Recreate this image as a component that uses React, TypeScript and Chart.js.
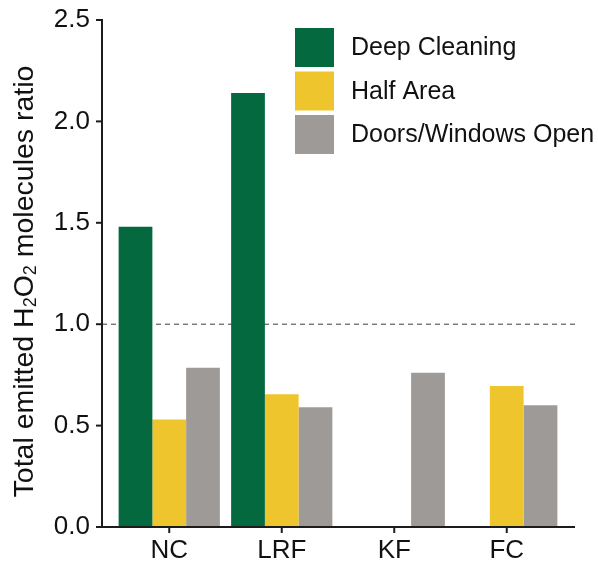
import { useEffect, useRef } from "react";
import { Chart, registerables } from "chart.js";

Chart.register(...registerables);

const categories = ["NC", "LRF", "KF", "FC"];
const deepCleaning = [1.48, 2.14, null, null];
const halfArea = [0.53, 0.655, null, 0.695];
const doorsWindowsOpen = [0.785, 0.59, 0.76, 0.6];
const yTickValues = [0, 0.5, 1.0, 1.5, 2.0, 2.5];
const seriesLabels = ["Deep Cleaning", "Half Area", "Doors/Windows Open"];
const seriesColors = ["#04693E", "#EFC52E", "#9E9A97"];
const referenceLine = 1.0;
// y-axis title pieces: [text, isSubscript]
const yTitleParts: [string, boolean][] = [
  ["Total emitted H", false],
  ["2", true],
  ["O", false],
  ["2", true],
  [" molecules ratio", false],
];

const FONT = "'Liberation Sans', Arial, sans-serif";
const AXIS_COLOR = "#1c1c1c";
const TITLE_SIZE = 28.5;
const SUB_SIZE = 18;

const axesPlugin = {
  id: "customAxes",
  beforeDatasetsDraw(chart: any) {
    const { ctx, chartArea, scales } = chart;
    const y = scales.y;
    const axisX = chartArea.left - 11;
    const rightX = chartArea.right + 12;
    const yRef = y.getPixelForValue(referenceLine);
    ctx.save();
    ctx.strokeStyle = "#3a3a3a";
    ctx.lineWidth = 1;
    ctx.setLineDash([5, 4]);
    ctx.beginPath();
    ctx.moveTo(axisX, yRef);
    ctx.lineTo(rightX, yRef);
    ctx.stroke();
    ctx.restore();
  },
  afterDatasetsDraw(chart: any) {
    const { ctx, chartArea, scales } = chart;
    const x = scales.x;
    const y = scales.y;
    const axisX = chartArea.left - 11;
    const rightX = chartArea.right + 12;
    const y0 = y.getPixelForValue(0);
    const yTop = y.getPixelForValue(yTickValues[yTickValues.length - 1]);
    ctx.save();
    ctx.strokeStyle = AXIS_COLOR;
    ctx.lineWidth = 2;
    ctx.lineCap = "butt";
    ctx.beginPath();
    ctx.moveTo(axisX, yTop - 1);
    ctx.lineTo(axisX, y0);
    ctx.stroke();
    ctx.beginPath();
    ctx.moveTo(axisX - 6, y0);
    ctx.lineTo(rightX, y0);
    ctx.stroke();
    yTickValues.forEach((v) => {
      const py = y.getPixelForValue(v);
      ctx.beginPath();
      ctx.moveTo(axisX - 6, py);
      ctx.lineTo(axisX, py);
      ctx.stroke();
    });
    categories.forEach((_, i) => {
      const px = x.getPixelForValue(i);
      ctx.beginPath();
      ctx.moveTo(px, y0);
      ctx.lineTo(px, y0 + 6);
      ctx.stroke();
    });
    ctx.restore();
  },
  afterDraw(chart: any) {
    const { ctx, chartArea } = chart;
    // legend
    const boxX = chartArea.left + 182;
    const boxTop = chartArea.top + 8;
    const box = 39;
    const step = 43.5;
    ctx.save();
    ctx.font = `25px ${FONT}`;
    ctx.textBaseline = "middle";
    ctx.textAlign = "left";
    seriesLabels.forEach((label, i) => {
      const top = boxTop + i * step;
      ctx.fillStyle = seriesColors[i];
      ctx.fillRect(boxX, top, box, box);
      ctx.fillStyle = "#111";
      ctx.fillText(label, boxX + 56, top + box / 2 + 1);
    });
    ctx.restore();

    // y-axis title with real subscripts
    ctx.save();
    ctx.fillStyle = "#111";
    ctx.textBaseline = "alphabetic";
    ctx.textAlign = "left";
    const widths = yTitleParts.map(([t, sub]) => {
      ctx.font = `${sub ? SUB_SIZE : TITLE_SIZE}px ${FONT}`;
      return ctx.measureText(t).width;
    });
    const total = widths.reduce((a, b) => a + b, 0);
    const centerY = (chartArea.top + chartArea.bottom) / 2 + 8;
    const baselineX = chartArea.left - 80;
    ctx.translate(baselineX, centerY);
    ctx.rotate(-Math.PI / 2);
    let cx = -total / 2;
    yTitleParts.forEach(([t, sub], i) => {
      ctx.font = `${sub ? SUB_SIZE : TITLE_SIZE}px ${FONT}`;
      ctx.fillText(t, cx, sub ? 3 : 0);
      cx += widths[i];
    });
    ctx.restore();
  },
};

export default function App() {
  const canvasRef = useRef<HTMLCanvasElement | null>(null);

  useEffect(() => {
    if (!canvasRef.current) return;
    const seriesData = [deepCleaning, halfArea, doorsWindowsOpen];
    const chart = new Chart(canvasRef.current, {
      type: "bar",
      data: {
        labels: categories,
        datasets: seriesLabels.map((label, i) => ({
          label,
          data: seriesData[i] as any,
          backgroundColor: seriesColors[i],
          borderWidth: 0,
          categoryPercentage: 0.9,
          barPercentage: 1.0,
        })),
      },
      options: {
        animation: false,
        responsive: true,
        maintainAspectRatio: false,
        layout: { padding: { top: 20, right: 35, left: 0, bottom: 0 } },
        plugins: {
          legend: { display: false },
          tooltip: { enabled: false },
        },
        scales: {
          x: {
            grid: { display: false, drawTicks: false },
            border: { display: false },
            ticks: {
              color: "#111",
              font: { family: FONT, size: 26 },
              padding: 8,
            },
            afterFit: (scale: any) => {
              scale.height = 35;
            },
          },
          y: {
            min: 0,
            max: 2.5,
            grid: { display: false, drawTicks: false },
            border: { display: false },
            afterBuildTicks: (scale: any) => {
              scale.ticks = yTickValues.map((v) => ({ value: v }));
            },
            ticks: {
              color: "#111",
              font: { family: FONT, size: 26 },
              padding: 23,
              callback: (v: any) => Number(v).toFixed(1),
            },
            afterFit: (scale: any) => {
              scale.width = 113;
              scale.paddingTop = 0;
              scale.paddingBottom = 0;
            },
          },
        },
      },
      plugins: [axesPlugin],
    });
    return () => chart.destroy();
  }, []);

  return (
    <div style={{ position: "fixed", left: 0, top: 0, width: 598, height: 562, background: "#fff" }}>
      <canvas ref={canvasRef} />
    </div>
  );
}
